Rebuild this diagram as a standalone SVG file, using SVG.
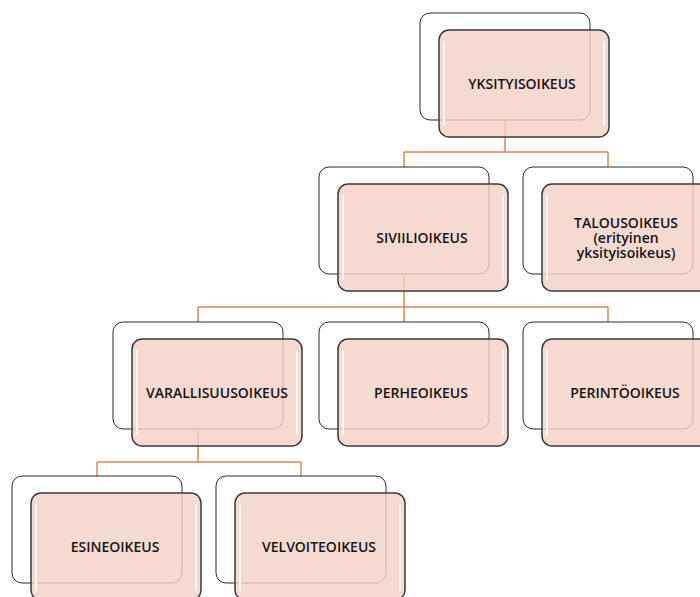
<svg xmlns="http://www.w3.org/2000/svg" width="700" height="597" viewBox="0 0 700 597">
<defs>
<style>
.back{fill:#ffffff;stroke:#2a2a2a;stroke-width:1}
.front{fill:#f4d2c8;fill-opacity:0.82;stroke:#3a3a3a;stroke-width:1.5}
.hl{fill:none;stroke:#ffffff;stroke-width:2;stroke-opacity:0.85;stroke-linecap:round}
.con{fill:none;stroke:#e08550;stroke-width:1.5}
.lbl{font-family:"Open Sans","DejaVu Sans",sans-serif;font-weight:600;font-size:14px;fill:#151515;text-anchor:middle}
</style>
</defs>
<rect width="700" height="597" fill="#ffffff"/>
<g id="connectors">
<path class="con" d="M505,118 V152 M404,152 H608 M404,152 V167 M608,152 V167"/>
<path class="con" d="M404,274 V307 M198,307 H608 M198,307 V322 M404,307 V322 M608,307 V322"/>
<path class="con" d="M198,429 V462 M97,462 H301 M97,462 V476 M301,462 V476"/>
</g>
<g id="n1">
<rect class="back" x="420" y="13" width="170" height="107" rx="10"/>
<rect class="front" x="439" y="30" width="170" height="107" rx="10"/>
<path class="hl" d="M444,42 V125 M604,42 V125"/>
<text class="lbl" x="522" y="89">YKSITYISOIKEUS</text>
</g>
<g id="n2">
<rect class="back" x="319" y="167" width="170" height="107" rx="10"/>
<rect class="front" x="338" y="184" width="170" height="107" rx="10"/>
<path class="hl" d="M343,196 V279 M503,196 V279"/>
<text class="lbl" x="422" y="243">SIVIILIOIKEUS</text>
</g>
<g id="n3">
<rect class="back" x="523" y="167" width="170" height="107" rx="10"/>
<rect class="front" x="542" y="184" width="170" height="107" rx="10"/>
<path class="hl" d="M547,196 V279"/>
<text class="lbl" x="626" y="228">TALOUSOIKEUS<tspan x="626" dy="15">(erityinen</tspan><tspan x="626" dy="15">yksityisoikeus)</tspan></text>
</g>
<g id="n4">
<rect class="back" x="113" y="322" width="170" height="107" rx="10"/>
<rect class="front" x="132" y="339" width="170" height="107" rx="10"/>
<path class="hl" d="M137,351 V434 M297,351 V434"/>
<text class="lbl" x="217" y="398">VARALLISUUSOIKEUS</text>
</g>
<g id="n5">
<rect class="back" x="319" y="322" width="170" height="107" rx="10"/>
<rect class="front" x="338" y="339" width="170" height="107" rx="10"/>
<path class="hl" d="M343,351 V434 M503,351 V434"/>
<text class="lbl" x="421" y="398">PERHEOIKEUS</text>
</g>
<g id="n6">
<rect class="back" x="523" y="322" width="170" height="107" rx="10"/>
<rect class="front" x="542" y="339" width="170" height="107" rx="10"/>
<path class="hl" d="M547,351 V434"/>
<text class="lbl" x="625" y="398">PERINTÖOIKEUS</text>
</g>
<g id="n7">
<rect class="back" x="12" y="476" width="170" height="107" rx="10"/>
<rect class="front" x="31" y="493" width="170" height="107" rx="10"/>
<path class="hl" d="M36,505 V590 M196,505 V590"/>
<text class="lbl" x="115" y="552">ESINEOIKEUS</text>
</g>
<g id="n8">
<rect class="back" x="216" y="476" width="170" height="107" rx="10"/>
<rect class="front" x="235" y="493" width="170" height="107" rx="10"/>
<path class="hl" d="M240,505 V590 M400,505 V590"/>
<text class="lbl" x="319" y="552">VELVOITEOIKEUS</text>
</g>
</svg>
